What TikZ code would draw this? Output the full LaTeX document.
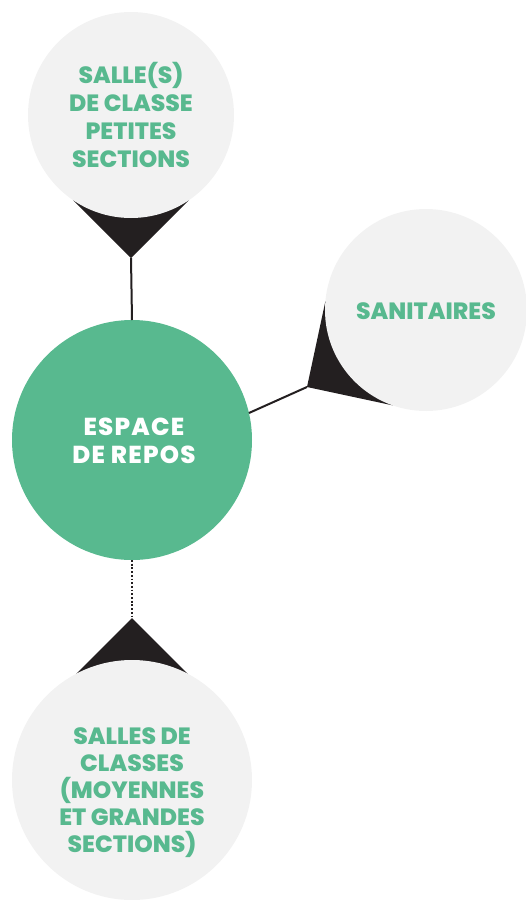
\documentclass[tikz,border=0pt]{standalone}
\usepackage{fontspec}
\setmainfont{Poppins}[BoldFont={Poppins ExtraBold}]
\usetikzlibrary{calc,backgrounds}
\definecolor{grn}{HTML}{58B98F}
\definecolor{pale}{HTML}{F2F2F2}
\definecolor{ink}{HTML}{231F20}
\begin{document}
\begin{tikzpicture}[x=1pt,y=-1pt,
  bubble/.style={circle,fill=pale,inner sep=0pt,outer sep=0pt,minimum size=#1},
  hub/.style={circle,fill=grn,inner sep=0pt,outer sep=0pt,minimum size=240pt},
  lbl/.style={font=\fontsize{23.5}{28}\selectfont\bfseries,align=center,inner sep=0pt},
  lblb/.style={font=\fontsize{23.5}{27}\selectfont\bfseries,align=center,inner sep=0pt},
  lblh/.style={font=\fontsize{24.5}{28.5}\selectfont\bfseries\addfontfeature{LetterSpace=5},align=center,inner sep=0pt},
  pointer/.style={fill=ink},
  link/.style={draw=ink,line width=2pt},
  dotlink/.style={draw=ink,line width=2pt,dash pattern=on 1.8pt off 1.9pt}]
\useasboundingbox (0,0) rectangle (526,900);
\node[bubble=206pt] (top) at (131,115) {};
\node[hub] (hubc) at (132,440) {};
\node[bubble=202pt] (right) at (426,310) {};
\node[bubble=240pt] (bot) at (132,780) {};
\coordinate (tipT) at (131,258);
\coordinate (tipR) at (307,387);
\coordinate (tipB) at (132,618);
\begin{scope}[on background layer]
\fill[pointer] (tipT) -- ($(tipT)!81.5pt!45:(top.center)$) -- (top.center) -- ($(tipT)!81.5pt!-45:(top.center)$) -- cycle;
\fill[pointer] (tipR) -- ($(tipR)!87.5pt!45:(right.center)$) -- (right.center) -- ($(tipR)!87.5pt!-45:(right.center)$) -- cycle;
\fill[pointer] (tipB) -- ($(tipB)!78.8pt!45:(bot.center)$) -- (bot.center) -- ($(tipB)!78.8pt!-45:(bot.center)$) -- cycle;
\end{scope}
\draw[link] (tipT) -- (hubc.north);
\draw[link] (tipR) -- (hubc.13);
\draw[dotlink] (hubc.south) -- (tipB);
\node[lbl,text=grn] (ttop) at (131,115) {SALLE(S)\\DE CLASSE\\PETITES\\SECTIONS};
\node[lblh,text=white] (thub) at (134,441) {ESPACE\\DE\ REPOS};
\node[lbl,text=grn] (tright) at (426,311) {SANITAIRES};
\node[lblb,text=grn] (tbot) at (132,793) {SALLES DE\\CLASSES\\(MOYENNES\\ET GRANDES\\SECTIONS)};
\end{tikzpicture}
\end{document}
